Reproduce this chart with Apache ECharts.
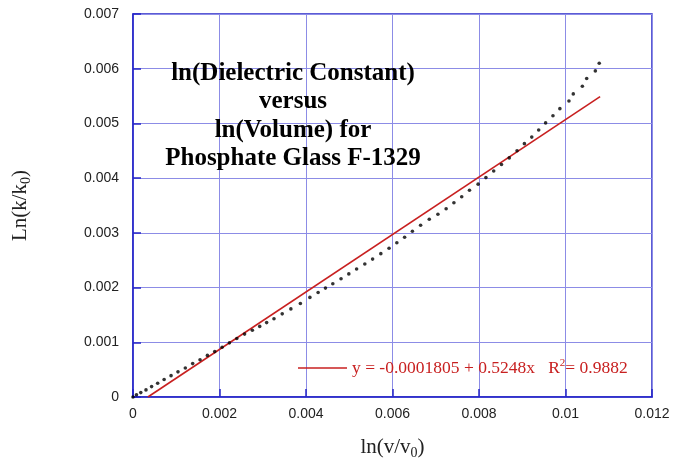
<!DOCTYPE html>
<html>
<head>
<meta charset="utf-8">
<script src="https://cdn.jsdelivr.net/npm/echarts@6/dist/echarts.min.js"></script>
<style>
  html, body { margin: 0; padding: 0; background: #fff; }
  #chart { width: 673px; height: 474px; }
</style>
</head>
<body>
<div id="chart"></div>
<script>
// measured points, ln(v/v0)
const lnV = [
  0, 0.00008, 0.00018, 0.00030, 0.00043, 0.00057, 0.00072, 0.00088, 0.00104,
  0.00121, 0.00138, 0.00155, 0.00172, 0.00189, 0.00206, 0.00223, 0.00240,
  0.00258, 0.00276, 0.00293, 0.00309, 0.00326, 0.00345, 0.00365, 0.00387,
  0.00409, 0.00428, 0.00445, 0.00462, 0.00481, 0.00499, 0.00517, 0.00536,
  0.00554, 0.00573, 0.00592, 0.00610, 0.00628, 0.00646, 0.00665, 0.00685,
  0.00705, 0.00724, 0.00742, 0.00760, 0.00778, 0.00798, 0.00816, 0.00834,
  0.00852, 0.00870, 0.00888, 0.00905, 0.00922, 0.00938, 0.00954, 0.00971,
  0.00987, 0.01008, 0.01018, 0.01039, 0.01049, 0.01069, 0.01078
];
// ln(k/k0)
const lnK = [
  0, 0.00004, 0.00008, 0.00013, 0.00019, 0.00025, 0.00032, 0.00039, 0.00046,
  0.00053, 0.00061, 0.00068, 0.00076, 0.00083, 0.00091, 0.00099, 0.00107,
  0.00115, 0.00122, 0.00129, 0.00136, 0.00143, 0.00152, 0.00161, 0.00171,
  0.00182, 0.00191, 0.00199, 0.00207, 0.00216, 0.00225, 0.00234, 0.00243,
  0.00252, 0.00262, 0.00272, 0.00282, 0.00292, 0.00303, 0.00314, 0.00325,
  0.00334, 0.00344, 0.00355, 0.00366, 0.00378, 0.00389, 0.00401, 0.00413,
  0.00425, 0.00437, 0.00450, 0.00463, 0.00475, 0.00488, 0.00501, 0.00514,
  0.00527, 0.00541, 0.00554, 0.00568, 0.00582, 0.00596, 0.00610
];
// linear fit end points
const fitX = [0.000344, 0.0108];
const fitY = [0, 0.00549];

const titleLines = [
  'ln(Dielectric Constant)',
  'versus',
  'ln(Volume) for',
  'Phosphate Glass F-1329'
];

const points = lnV.map((x, i) => [x, lnK[i]]);
const fitLine = fitX.map((x, i) => [x, fitY[i]]);

const frame = '#2626c8';
const gridCol = '#8c8ce6';
const red = '#c82020';

const chart = echarts.init(document.getElementById('chart'));
chart.setOption({
  animation: false,
  backgroundColor: '#fff',
  title: {
    text: titleLines.join('\n'),
    left: 288,
    top: 54,
    textAlign: 'center',
    textStyle: {
      fontFamily: 'Liberation Serif',
      fontWeight: 'bold',
      fontSize: 25,
      lineHeight: 28.5,
      color: '#000'
    }
  },
  legend: {
    data: [{ name: 'fit', icon: 'rect' }],
    left: 293,
    top: 353,
    itemWidth: 49,
    itemHeight: 1.5,
    itemGap: 5,
    formatter: () => 'y = -0.0001805 + 0.5248x   R{sup|2}= 0.9882',
    textStyle: {
      fontFamily: 'Liberation Serif',
      fontSize: 17.5,
      color: red,
      rich: {
        sup: { fontFamily: 'Liberation Serif', fontSize: 11, color: red, verticalAlign: 'top', padding: [0, 0, 9, 0] }
      }
    }
  },
  grid: { left: 133, right: 21, top: 14, bottom: 77, show: true, borderColor: frame, borderWidth: 1.5 },
  xAxis: {
    type: 'value',
    min: 0, max: 0.012, interval: 0.002,
    name: 'ln(v/v{sub|0})',
    nameLocation: 'middle',
    nameGap: 37,
    nameTextStyle: {
      fontFamily: 'Liberation Serif', fontSize: 21, color: '#222',
      rich: { sub: { fontFamily: 'Liberation Serif', fontSize: 14, color: '#222', verticalAlign: 'bottom', padding: [12, 0, 0, 0] } }
    },
    axisLine: { show: true, lineStyle: { color: frame, width: 1.5 } },
    axisTick: { show: true, inside: true, length: 8, lineStyle: { color: frame, width: 1.5 } },
    splitLine: { show: true, lineStyle: { color: gridCol, width: 1 } },
    axisLabel: {
      fontFamily: 'Liberation Sans', fontSize: 14, color: '#222', margin: 10,
      formatter: v => v === 0 ? '0' : String(+v.toFixed(3))
    }
  },
  yAxis: {
    type: 'value',
    min: 0, max: 0.007, interval: 0.001,
    name: 'Ln(k/k{sub|0})',
    nameLocation: 'middle',
    nameGap: 100,
    nameRotate: 90,
    nameTextStyle: {
      fontFamily: 'Liberation Serif', fontSize: 21, color: '#222',
      rich: { sub: { fontFamily: 'Liberation Serif', fontSize: 14, color: '#222', verticalAlign: 'bottom', padding: [12, 0, 0, 0] } }
    },
    axisLine: { show: true, lineStyle: { color: frame, width: 1.5 } },
    axisTick: { show: true, inside: true, length: 8, lineStyle: { color: frame, width: 1.5 } },
    splitLine: { show: true, lineStyle: { color: gridCol, width: 1 } },
    axisLabel: {
      fontFamily: 'Liberation Sans', fontSize: 14, color: '#222', margin: 14,
      formatter: v => v === 0 ? '0' : String(+v.toFixed(3))
    }
  },
  series: [
    {
      name: 'data',
      type: 'scatter',
      data: points,
      symbol: 'circle',
      symbolSize: 3.6,
      itemStyle: { color: '#000' },
      z: 3
    },
    {
      name: 'fit',
      type: 'line',
      data: fitLine,
      showSymbol: false,
      symbol: 'none',
      lineStyle: { color: red, width: 1.6 },
      itemStyle: { color: red },
      z: 2
    }
  ]
});
</script>
</body>
</html>
